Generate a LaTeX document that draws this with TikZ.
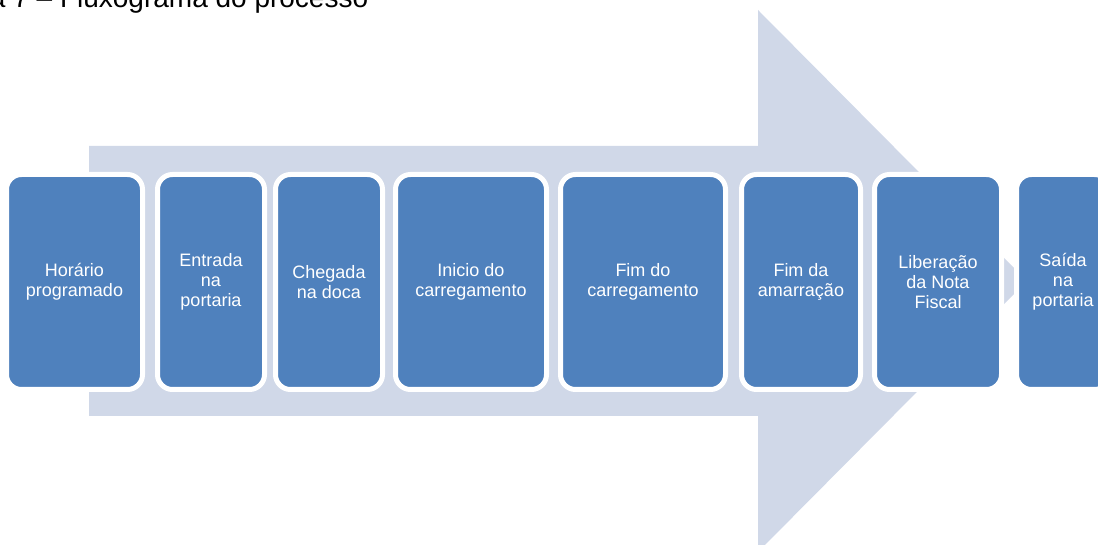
\documentclass[tikz,border=0pt]{standalone}
\usepackage{fontspec}
\setmainfont{Liberation Sans}
\definecolor{setafundo}{HTML}{D0D8E8}
\definecolor{etapaazul}{HTML}{4F81BD}
\tikzstyle{etapa}=[rectangle,rounded corners=15pt,fill=etapaazul,draw=white,line width=5pt,minimum height=215pt,inner sep=0pt,text=white,align=center,font=\fontsize{18}{20}\selectfont]

\begin{document}
\begin{tikzpicture}[x=1pt,y=1pt]
		\useasboundingbox (0,0) rectangle (1098,544);
		\node[anchor=base west,inner sep=0pt,font=\fontsize{28}{32}\selectfont] (titulo) at (-74,536) {Figura 7 -- Fluxograma do processo};
		% First we draw the big arrow
		\fill[setafundo] (89,398) -- (758,398) -- (758,534) -- (1027,263) -- (758,-8) -- (758,128) -- (89,128) -- cycle;
		\node[etapa,minimum width=136pt] (h) at (74.5,262) {Horário\\programado};
		\node[etapa,minimum width=107pt] (e) at (211,262) {Entrada\\na\\portaria};
		\node[etapa,minimum width=107pt] (c) at (329,262) {Chegada\\na doca};
		\node[etapa,minimum width=151pt] (i) at (471,262) {Inicio do\\carregamento};
		\node[etapa,minimum width=165pt] (f) at (643,262) {Fim do\\carregamento};
		\node[etapa,minimum width=119pt] (a) at (801,262) {Fim da\\amarração};
		\node[etapa,minimum width=127pt] (l) at (938,262) {Liberação\\da Nota\\Fiscal};
		\node[etapa,minimum width=93pt] (s) at (1063,262) {Saída\\na\\portaria};
\end{tikzpicture}
\end{document}
